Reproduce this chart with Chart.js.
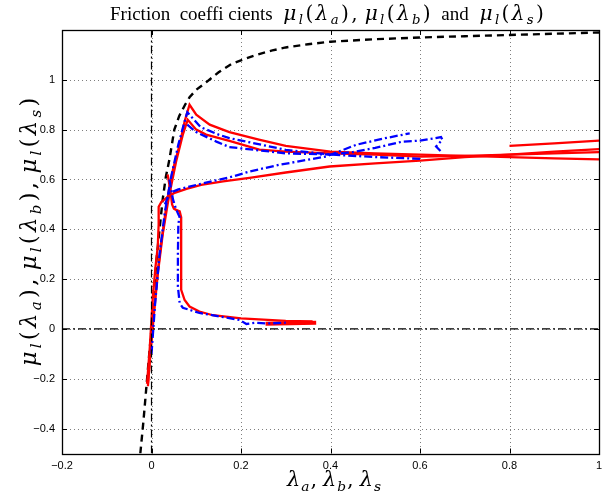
<!DOCTYPE html>
<html><head><meta charset="utf-8">
<script src="https://cdn.jsdelivr.net/npm/chart.js@4"></script>
<style>html,body{margin:0;padding:0;background:#fff}#wrap{width:616px;height:493px}</style>
</head><body><div id="wrap"><canvas id="c" width="616" height="493"></canvas></div>
<script>
// ---- tick labels / axes ----
const xTicks = [-0.2, 0, 0.2, 0.4, 0.6, 0.8, 1];
const yTicks = [-0.4, -0.2, 0, 0.2, 0.4, 0.6, 0.8, 1];
const xRange = [-0.2, 1];
const yRange = [-0.5, 1.2];

// ---- reference curve (black dashed) ----
const refX = [-0.025,-0.018,-0.012,-0.006,0,0.005,0.0105,0.018,0.025,0.032,0.04,0.051,0.062,0.075,0.085,0.1,0.122,0.15,0.18,0.21,0.234,0.27,0.3,0.35,0.4,0.5,0.6,0.7,0.8,0.9,1.0];
const refY = [-0.5,-0.37,-0.245,-0.12,0,0.13,0.265,0.40,0.52,0.61,0.68,0.80,0.855,0.90,0.93,0.96,0.99,1.03,1.065,1.085,1.10,1.118,1.13,1.143,1.153,1.163,1.17,1.175,1.18,1.185,1.19];

// ---- red solid curves ----
const redAX = [-0.008,-0.002,0.004,0.012,0.022,0.033,0.04,0.048,0.063,0.074,0.085,0.1,0.13,0.174,0.24,0.3,0.4,0.5,0.6,0.7,0.8,0.9,1.0];
const redAY = [-0.23,-0.08,0.05,0.2,0.35,0.49,0.57,0.64,0.74,0.833,0.9,0.86,0.82,0.79,0.76,0.735,0.712,0.705,0.70,0.695,0.69,0.685,0.681];
const redBX = [-0.008,-0.001,0.006,0.014,0.025,0.036,0.04,0.055,0.07,0.081,0.1,0.122,0.174,0.241,0.3,0.4,0.5,0.6,0.7,0.8,0.9,1.0];
const redBY = [-0.22,-0.07,0.07,0.22,0.38,0.5,0.54,0.672,0.78,0.84,0.80,0.78,0.755,0.72,0.712,0.705,0.70,0.692,0.695,0.70,0.705,0.71];
const redCX = [-0.01,-0.004,0.003,0.009,0.014,0.016,0.016,0.022,0.036,0.05,0.08,0.111,0.16,0.219,0.3,0.398,0.5,0.6,0.7,0.8,0.9,1.0];
const redCY = [-0.22,-0.08,0.13,0.25,0.33,0.42,0.49,0.51,0.53,0.545,0.563,0.578,0.592,0.606,0.628,0.652,0.665,0.676,0.69,0.70,0.712,0.722];
const redDX = [0.036,0.042,0.046,0.05,0.055,0.063,0.066,0.066,0.066,0.067,0.074,0.085,0.107,0.137,0.2,0.3,0.36];
const redDY = [0.62,0.56,0.50,0.483,0.478,0.472,0.45,0.33,0.2,0.157,0.116,0.09,0.07,0.055,0.042,0.032,0.03];
const redEX = [0.255,0.31,0.368];
const redEY = [0.021,0.023,0.025];
const redFX = [0.8,0.9,1.0];
const redFY = [0.735,0.745,0.756];

// ---- blue dash-dot curves ----
const blueAX = [0.0,0.008,0.018,0.03,0.045,0.06,0.072,0.08,0.09,0.11,0.15,0.174,0.3,0.4,0.5,0.6];
const blueAY = [-0.1,0.1,0.3,0.47,0.62,0.74,0.82,0.87,0.85,0.81,0.78,0.766,0.719,0.70,0.69,0.683];
const blueBX = [0.08,0.1,0.145,0.174,0.3,0.4,0.45,0.5,0.561,0.6,0.647,0.65,0.636,0.647];
const blueBY = [0.82,0.79,0.752,0.73,0.705,0.70,0.71,0.727,0.752,0.756,0.77,0.76,0.732,0.712];
const blueCX = [0.03,0.04,0.06,0.1,0.182,0.219,0.286,0.39,0.457,0.52,0.577];
const blueCY = [0.50,0.545,0.56,0.578,0.612,0.632,0.659,0.692,0.739,0.765,0.785];
const blueDX = [0.04,0.048,0.055,0.0626,0.06,0.059,0.059,0.063,0.07,0.107,0.197,0.212,0.234,0.26,0.3];
const blueDY = [0.6,0.52,0.48,0.45,0.42,0.3,0.17,0.103,0.085,0.064,0.036,0.02,0.025,0.022,0.025];

// ---- zero lines ----
const zeroHX = [-0.2, 1], zeroHY = [0, 0];
const zeroVX = [0, 0], zeroVY = [-0.5, 1.2];

// ---- texts (r = roman words, m = math upright, i = math italic, s = math subscript) ----
const titleRuns = [['Friction  coeffi cients  ','r'],['μ','i'],['l','s'],['(','m'],['λ','i'],['a','s'],['),','m'],[' ','r'],['μ','i'],['l','s'],['(','m'],['λ','i'],['b','s'],[')','m'],['  and  ','r'],['μ','i'],['l','s'],['(','m'],['λ','i'],['s','s'],[')','m']];
const xLabelRuns = [['λ','i'],['a','s'],[',','m'],[' ','r'],['λ','i'],['b','s'],[',','m'],[' ','r'],['λ','i'],['s','s']];
const yLabelRuns = [['μ','i'],['l','s'],['(','m'],['λ','i'],['a','s'],['),','m'],[' ','r'],['μ','i'],['l','s'],['(','m'],['λ','i'],['b','s'],['),','m'],[' ','r'],['μ','i'],['l','s'],['(','m'],['λ','i'],['s','s'],[')','m']];

const mk = (xs, ys) => xs.map((x, i) => ({x, y: ys[i]}));
const line = (xs, ys, color, width, dash) => ({
  data: mk(xs, ys), borderColor: color, backgroundColor: color, borderWidth: width,
  borderDash: dash, showLine: true, pointRadius: 0, fill: false, tension: 0
});

const DASHDOT = [8, 3, 2, 3];
const datasets = [
  line(zeroHX, zeroHY, '#000', 1.2, [8, 3, 2, 3]),
  line(zeroVX, zeroVY, '#000', 1.2, [8, 3, 2, 3]),
  line(blueAX, blueAY, '#0000ff', 2.3, DASHDOT),
  line(blueBX, blueBY, '#0000ff', 2.3, DASHDOT),
  line(blueCX, blueCY, '#0000ff', 2.3, DASHDOT),
  line(blueDX, blueDY, '#0000ff', 2.3, DASHDOT),
  line(redAX, redAY, '#ff0000', 2.3, []),
  line(redBX, redBY, '#ff0000', 2.3, []),
  line(redCX, redCY, '#ff0000', 2.3, []),
  line(redDX, redDY, '#ff0000', 2.3, []),
  line(redEX, redEY, '#ff0000', 4, []),
  line(redFX, redFY, '#ff0000', 2.3, []),
  line(refX, refY, '#000', 2.4, [7, 5]),
];

// draws mixed roman / math text; math glyphs are enlarged (up to maxK) and spaced so the run reaches targetW
function drawRich(ctx, runs, x, y, size, targetW, maxK) {
  const roman = '"Liberation Serif","Times New Roman",serif';
  const math = '"DejaVu Serif",serif';
  const fontOf = (s, k) => s === 'r' ? size + 'px ' + roman
    : s === 'm' ? (size * k) + 'px ' + math
    : s === 'i' ? 'italic ' + (size * k) + 'px ' + math
    : 'italic ' + (size * k * 0.66) + 'px ' + math;
  const measure = k => {
    let romanW = 0, mathW = 0, n = 0;
    runs.forEach(([t, s]) => {
      ctx.font = fontOf(s, k);
      const w = ctx.measureText(t).width;
      if (s === 'r') romanW += w; else { mathW += w; n += [...t].length; }
    });
    return {romanW, mathW, n};
  };
  const m1 = measure(1);
  const gap = 1.0;
  let k = (targetW - m1.romanW - gap * m1.n) / m1.mathW;
  k = Math.min(maxK, Math.max(0.9, k));
  const mk2 = measure(k);
  const extra = Math.max(0, (targetW - mk2.romanW - mk2.mathW) / mk2.n);
  const total = mk2.romanW + mk2.mathW + extra * mk2.n;
  let cx = x - total / 2;
  ctx.textBaseline = 'alphabetic';
  ctx.textAlign = 'left';
  runs.forEach(([t, s]) => {
    ctx.font = fontOf(s, k);
    const dy = s === 's' ? size * k * 0.22 : 0;
    if (s === 'r') { ctx.fillText(t, cx, y); cx += ctx.measureText(t).width; return; }
    [...t].forEach(ch => { ctx.fillText(ch, cx + extra / 2, y + dy); cx += ctx.measureText(ch).width + extra; });
  });
}

const framePlugin = {
  id: 'frame',
  beforeDatasetsDraw(chart) {
    const {ctx, chartArea: a, scales: {x, y}} = chart;
    ctx.save();
    ctx.strokeStyle = 'rgba(0,0,0,0.5)';
    ctx.lineWidth = 1;
    ctx.setLineDash([1, 3]);
    xTicks.forEach(v => { const px = Math.round(x.getPixelForValue(v)) + 0.5; ctx.beginPath(); ctx.moveTo(px, a.top); ctx.lineTo(px, a.bottom); ctx.stroke(); });
    yTicks.forEach(v => { const py = Math.round(y.getPixelForValue(v)) + 0.5; ctx.beginPath(); ctx.moveTo(a.left, py); ctx.lineTo(a.right, py); ctx.stroke(); });
    ctx.restore();
  },
  afterDatasetsDraw(chart) {
    const {ctx, chartArea: a, scales: {x, y}} = chart;
    ctx.save();
    ctx.strokeStyle = '#000';
    ctx.lineWidth = 1;
    ctx.setLineDash([]);
    const L = 5;
    xTicks.forEach(v => { const px = Math.round(x.getPixelForValue(v)) + 0.5; ctx.beginPath(); ctx.moveTo(px, a.bottom); ctx.lineTo(px, a.bottom - L); ctx.moveTo(px, a.top); ctx.lineTo(px, a.top + L); ctx.stroke(); });
    yTicks.forEach(v => { const py = Math.round(y.getPixelForValue(v)) + 0.5; ctx.beginPath(); ctx.moveTo(a.left, py); ctx.lineTo(a.left + L, py); ctx.moveTo(a.right, py); ctx.lineTo(a.right - L, py); ctx.stroke(); });
    ctx.lineWidth = 1.3;
    ctx.strokeRect(Math.round(a.left) + 0.5, Math.round(a.top) + 0.5, Math.round(a.right - a.left), Math.round(a.bottom - a.top));
    ctx.fillStyle = '#000';
    drawRich(ctx, titleRuns, 327.5, 20, 19, 435, 1.06);
    drawRich(ctx, xLabelRuns, 334, 486, 20, 95, 1.1);
    ctx.translate(36, 232);
    ctx.rotate(-Math.PI / 2);
    drawRich(ctx, yLabelRuns, 0, 0, 20, 272, 1.14);
    ctx.restore();
  }
};

const fmt = v => { const r = Math.round(v * 10) / 10; return (r < 0 ? '\u2212' : '') + String(Math.abs(r)); };
const tickFont = {family: '"Liberation Sans", Arial, sans-serif', size: 11};

new Chart(document.getElementById('c'), {
  type: 'scatter',
  data: {datasets},
  plugins: [framePlugin],
  options: {
    responsive: false, animation: false, devicePixelRatio: 1,
    layout: {padding: {left: 0, top: 30, right: 17, bottom: 0}},
    plugins: {legend: {display: false}, tooltip: {enabled: false}, title: {display: false}},
    scales: {
      x: {
        type: 'linear', min: xRange[0], max: xRange[1],
        grid: {display: false, drawTicks: false}, border: {display: false},
        afterBuildTicks: s => { s.ticks = xTicks.map(v => ({value: v})); },
        afterFit: s => { s.height = 39.5; },
        ticks: {color: '#000', font: tickFont, padding: 6, maxRotation: 0, autoSkip: false, callback: fmt}
      },
      y: {
        type: 'linear', min: yRange[0], max: yRange[1],
        grid: {display: false, drawTicks: false}, border: {display: false},
        afterBuildTicks: s => { s.ticks = yTicks.map(v => ({value: v})); },
        afterFit: s => { s.width = 62; },
        ticks: {color: '#000', font: tickFont, padding: 7, autoSkip: false, callback: fmt}
      }
    }
  }
});
</script>
</body></html>
